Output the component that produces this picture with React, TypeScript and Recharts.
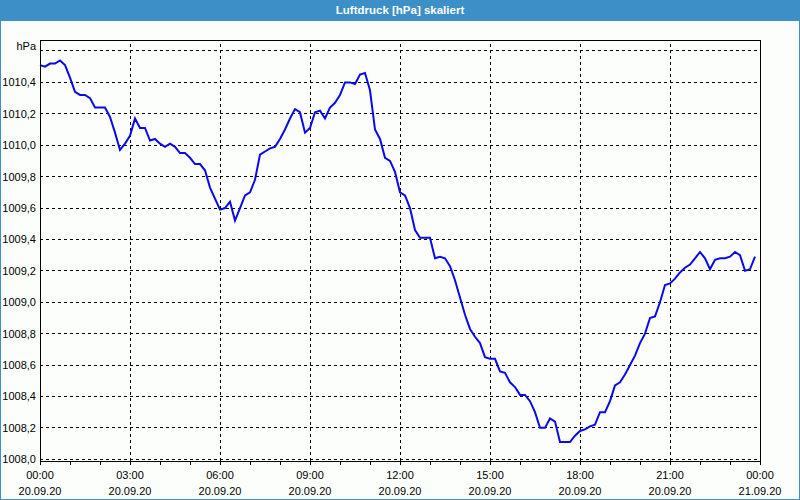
import React from 'react';
import { LineChart, Line, XAxis, YAxis, CartesianGrid, ReferenceLine, ReferenceArea } from 'recharts';

// air pressure, one reading every 10 minutes starting 20.09.20 00:00
const pressure = [
  1010.51, 1010.50, 1010.52, 1010.52, 1010.54, 1010.51, 1010.43, 1010.34, 1010.32, 1010.32,
  1010.30, 1010.24, 1010.24, 1010.24, 1010.18, 1010.08, 1009.97, 1010.01, 1010.06, 1010.17,
  1010.11, 1010.11, 1010.03, 1010.04, 1010.01, 1009.99, 1010.01, 1009.99, 1009.95, 1009.95,
  1009.92, 1009.88, 1009.88, 1009.84, 1009.73, 1009.66, 1009.59, 1009.60, 1009.64, 1009.52,
  1009.60, 1009.68, 1009.70, 1009.78, 1009.94, 1009.96, 1009.98, 1009.99, 1010.04, 1010.10,
  1010.17, 1010.23, 1010.21, 1010.08, 1010.11, 1010.21, 1010.22, 1010.17, 1010.24, 1010.27,
  1010.32, 1010.40, 1010.40, 1010.39, 1010.45, 1010.46, 1010.35, 1010.10, 1010.04, 1009.92,
  1009.90, 1009.83, 1009.70, 1009.68, 1009.60, 1009.46, 1009.41, 1009.41, 1009.41, 1009.28,
  1009.29, 1009.28, 1009.23, 1009.14, 1009.03, 1008.92, 1008.83, 1008.78, 1008.74, 1008.65,
  1008.64, 1008.64, 1008.56, 1008.55, 1008.49, 1008.46, 1008.41, 1008.41, 1008.37, 1008.30,
  1008.20, 1008.20, 1008.26, 1008.24, 1008.11, 1008.11, 1008.11, 1008.15, 1008.18, 1008.19,
  1008.21, 1008.22, 1008.30, 1008.30, 1008.37, 1008.47, 1008.49, 1008.54, 1008.60, 1008.66,
  1008.74, 1008.80, 1008.90, 1008.91, 1009.00, 1009.11, 1009.12, 1009.15, 1009.19, 1009.22,
  1009.24, 1009.28, 1009.32, 1009.28, 1009.21, 1009.27, 1009.28, 1009.28, 1009.29, 1009.32,
  1009.30, 1009.20, 1009.21, 1009.29,
];

const hourTicks = [0, 1, 2, 3, 4, 5, 6, 7, 8, 9, 10, 11, 12, 13, 14, 15, 16, 17, 18, 19, 20, 21, 22, 23, 24];
const gridHours = [3, 6, 9, 12, 15, 18, 21];
const pressureTicks = [1008.0, 1008.2, 1008.4, 1008.6, 1008.8, 1009.0, 1009.2, 1009.4, 1009.6, 1009.8, 1010.0, 1010.2, 1010.4, 1010.6];
const yDomain = [1007.989, 1010.67];
const dayStart = '20.09.20';
const dayEnd = '21.09.20';
const unit = 'hPa';
const title = 'Luftdruck [hPa] skaliert';

const data = pressure.map((p, i) => ({ t: i / 6, p }));

const TimeTick = (props: any) => {
  const { x, y, payload } = props;
  const h = payload.value;
  if (h % 3 !== 0) return null;
  const hh = String(h % 24).padStart(2, '0');
  return (
    <g>
      <text x={x} y={y} dy={12} textAnchor="middle" fill="#000" fontSize={11}>{`${hh}:00`}</text>
      <text x={x} y={y} dy={28} textAnchor="middle" fill="#000" fontSize={11}>{h === 24 ? dayEnd : dayStart}</text>
    </g>
  );
};

const PressureTick = (props: any) => {
  const { x, y, payload } = props;
  const v = payload.value;
  if (Math.abs(v - 1010.6) < 0.001) {
    return <text x={x} y={y} dy={-1} textAnchor="end" fill="#000" fontSize={11}>{unit}</text>;
  }
  return (
    <text x={x} y={y} dy={4} textAnchor="end" fill="#000" fontSize={11}>
      {v.toFixed(1).replace('.', ',')}
    </text>
  );
};

export default function App() {
  return (
    <div style={{ position: 'absolute', left: 0, top: 0, width: 800, height: 500, background: '#fcfefc', fontFamily: '"Liberation Sans", Arial, sans-serif' }}>
      <div style={{ position: 'absolute', left: 0, top: 0, width: 800, height: 21, background: '#3c8fc7', color: '#fff', fontWeight: 'bold', fontSize: 11.5, textAlign: 'center', lineHeight: '21px' }}>
        {title}
      </div>
      <div style={{ position: 'absolute', left: 0, top: 21 }}>
        <LineChart width={800} height={479} data={data} margin={{ top: 19, right: 40, bottom: 0, left: 0 }}>
          <CartesianGrid vertical={false} stroke="#000" strokeDasharray="3 3" shapeRendering="crispEdges" />
          {gridHours.map((h) => (
            <ReferenceLine key={h} x={h} stroke="#000" strokeDasharray="3 3" shapeRendering="crispEdges" />
          ))}
          <ReferenceArea x1={0} x2={24} y1={yDomain[0]} y2={yDomain[1]} fill="none" stroke="#000" fillOpacity={0} shapeRendering="crispEdges" />
          <XAxis
            dataKey="t"
            type="number"
            domain={[0, 24]}
            ticks={hourTicks}
            interval={0}
            height={39}
            tickSize={4}
            tickMargin={2}
            stroke="#000"
            axisLine={{ stroke: '#000', shapeRendering: 'crispEdges' }}
            tickLine={{ stroke: '#000', shapeRendering: 'crispEdges' }}
            tick={<TimeTick />}
          />
          <YAxis
            type="number"
            domain={yDomain}
            ticks={pressureTicks}
            allowDataOverflow
            width={40}
            tickLine={false}
            tickSize={0}
            tickMargin={4}
            stroke="#000"
            axisLine={{ stroke: '#000', shapeRendering: 'crispEdges' }}
            tick={<PressureTick />}
          />
          <Line type="linear" dataKey="p" stroke="#0a0ae6" strokeWidth={2} dot={false} isAnimationActive={false} />
        </LineChart>
      </div>
      <div style={{ position: 'absolute', left: 0, top: 0, width: 800, height: 500, boxSizing: 'border-box', border: '1px solid #3c8fc7', pointerEvents: 'none' }} />
    </div>
  );
}
